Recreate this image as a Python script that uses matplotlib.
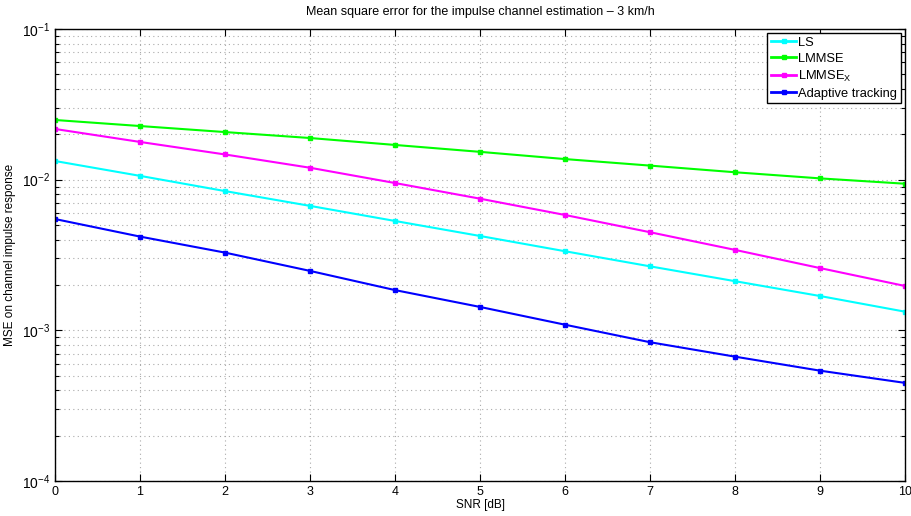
import matplotlib
matplotlib.use("Agg")
import matplotlib.pyplot as plt
from matplotlib.ticker import LogLocator, NullFormatter, FixedLocator

plt.rcParams['font.family'] = ['Liberation Sans', 'DejaVu Sans']

snr_db = [0, 1, 2, 3, 4, 5, 6, 7, 8, 9, 10]

mse_ls = [0.0133, 0.0106, 0.0084, 0.0067, 0.00532, 0.00423, 0.00335,
          0.00266, 0.00212, 0.00169, 0.00133]
mse_lmmse = [0.0249, 0.0227, 0.0207, 0.0189, 0.0170, 0.0153, 0.0137,
             0.0124, 0.0112, 0.0102, 0.0094]
mse_lmmse_x = [0.0217, 0.0178, 0.0147, 0.0120, 0.0095, 0.00748, 0.00583,
               0.00448, 0.00342, 0.00259, 0.00197]
mse_adaptive = [0.00548, 0.00419, 0.00328, 0.00248, 0.00185, 0.00143,
                0.00109, 0.000834, 0.000669, 0.000540, 0.000448]

series = [
    ("LS", mse_ls, "#00ffff"),
    ("LMMSE", mse_lmmse, "#00ff00"),
    ("LMMSE$_\\mathregular{X}$", mse_lmmse_x, "#ff00ff"),
    ("Adaptive tracking", mse_adaptive, "#0000ff"),
]

fig = plt.figure(figsize=(9.11, 5.16), dpi=100)
ax = fig.add_axes([0.0604, 0.0678, 0.9330, 0.8760])

for label, vals, color in series:
    ax.plot(snr_db, vals, color=color, lw=1.5, marker='s', markersize=3,
            label=label)

ax.set_yscale('log')
ax.set_xlim(0, 10)
ax.set_ylim(1e-4, 1e-1)
ax.xaxis.set_major_locator(FixedLocator(snr_db))
ax.yaxis.set_major_locator(LogLocator(base=10, numticks=10))
ax.yaxis.set_minor_locator(LogLocator(base=10, subs=range(2, 10), numticks=10))
ax.yaxis.set_minor_formatter(NullFormatter())

grid_style = dict(color='#aaaaaa', ls=(0, (1, 3)), lw=0.8)
ax.grid(True, which='major', axis='both', **grid_style)
ax.grid(True, which='minor', axis='y', **grid_style)

ax.tick_params(which='both', direction='in', top=True, right=True, width=0.8)
ax.tick_params(axis='x', labelsize=9)
ax.tick_params(axis='y', labelsize=10)
ax.tick_params(which='major', length=5)
ax.tick_params(which='minor', length=3)
for s in ax.spines.values():
    s.set_linewidth(1.0)

ax.set_xlabel("SNR [dB]", fontsize=8.5, labelpad=1)
ax.set_ylabel("MSE on channel impulse response", fontsize=8.5, labelpad=4)
ax.set_title("Mean square error for the impulse channel estimation \u2013 3 km/h",
             fontsize=9, pad=10)

leg = ax.legend(loc='upper right', fontsize=9.3, handlelength=1.9,
                fancybox=False, framealpha=1, edgecolor='black',
                borderaxespad=0.3, labelspacing=0.3, handletextpad=0.2,
                borderpad=0.3)
leg.get_frame().set_linewidth(1.0)
for line in leg.get_lines():
    line.set_linewidth(2.0)

fig.savefig("out.png", dpi=100)
